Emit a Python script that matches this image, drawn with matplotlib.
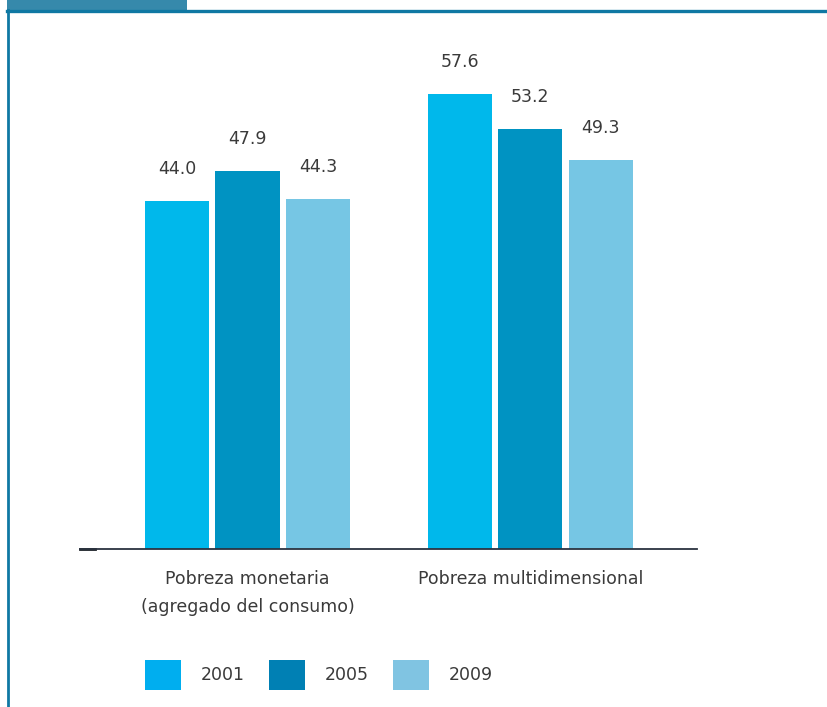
import numpy as np
import matplotlib.pyplot as plt
from matplotlib.patches import Rectangle, Patch
from matplotlib.lines import Line2D

categories = ['Pobreza monetaria\n(agregado del consumo)', 'Pobreza multidimensional']
years = ['2001', '2005', '2009']
values_2001 = [44.0, 57.6]
values_2005 = [47.9, 53.2]
values_2009 = [44.3, 49.3]

bar_colors = ['#00b8eb', '#0093c2', '#76c6e4']
legend_colors = ['#00aeef', '#0080b4', '#80c4e2']
text_color = '#3a3a3a'
fs = 12.5

W, H = 827, 707
fig = plt.figure(figsize=(W / 100, H / 100), dpi=100)

# axes placed in pixel terms: baseline at y=549, x from 80 to 697
left, right, bottom, top = 80, 697, 549, 40
ax = fig.add_axes([left / W, 1 - bottom / H, (right - left) / W, (bottom - top) / H])

series = [values_2001, values_2005, values_2009]
group_x = np.array([0, 4.01])
for i, vals in enumerate(series):
    xs = group_x + (i - 1)
    ax.bar(xs, vals, width=0.91, color=bar_colors[i], edgecolor='none')
    for x, v in zip(xs, vals):
        ax.annotate('%.1f' % v, (x, v), xytext=(0, 23), textcoords='offset points',
                    ha='center', va='center', fontsize=fs, color=text_color)

ax.set_xlim(-2.376, 6.376)
ax.set_ylim(0, (bottom - top) / 7.9)
for s in ['top', 'right', 'left']:
    ax.spines[s].set_visible(False)
ax.spines['bottom'].set_color('#2b3340')
ax.spines['bottom'].set_linewidth(1.3)
ax.set_yticks([])
ax.set_xticks(group_x)
ax.set_xticklabels(categories, fontsize=fs, color=text_color, linespacing=1.72)
ax.tick_params(axis='x', length=0, pad=15)

# small dark stub at left end of baseline
ax.plot([-2.376, -2.16], [0, 0], color='#1a1f26', lw=2, clip_on=False)

# legend
handles = [Patch(facecolor=c, edgecolor='none') for c in legend_colors]
fig.legend(handles, years, loc='center left', bbox_to_anchor=(145 / W, 1 - 675 / H),
           ncol=3, frameon=False, fontsize=fs, handlelength=2.07, handleheight=2.25,
           handletextpad=1.15, columnspacing=1.38, borderpad=0, borderaxespad=0,
           labelcolor=text_color)

# page frame
fig.add_artist(Rectangle((7 / W, 1 - 10 / H), 180 / W, 10 / H, transform=fig.transFigure,
                         facecolor='#3689ab', edgecolor='none'))
fig.add_artist(Line2D([7 / W, 1], [1 - 11 / H, 1 - 11 / H], transform=fig.transFigure,
                      color='#0f78a3', lw=2.4))
fig.add_artist(Line2D([8 / W, 8 / W], [0, 1 - 10 / H], transform=fig.transFigure,
                      color='#0f78a3', lw=2.0))

fig.savefig('out.png', dpi=100)
